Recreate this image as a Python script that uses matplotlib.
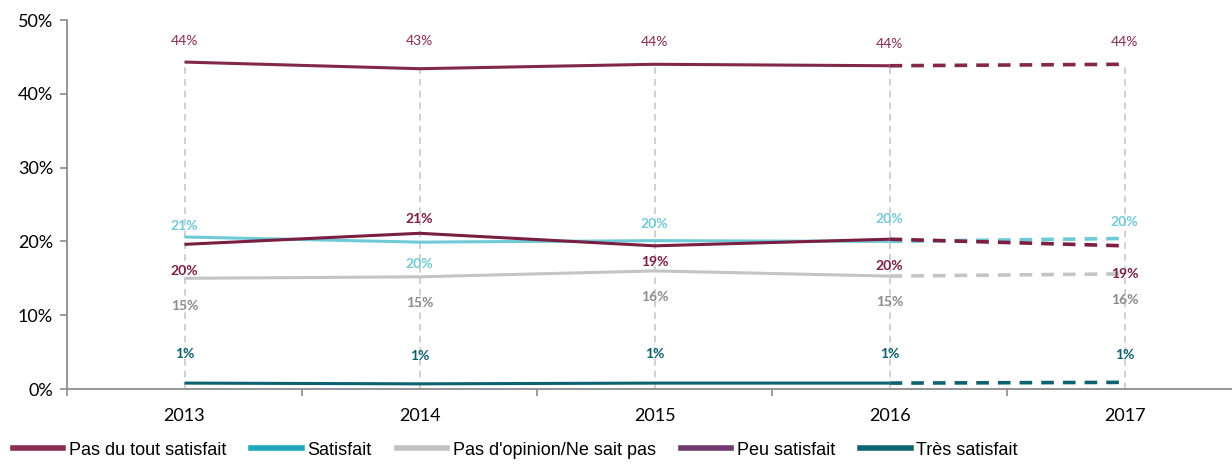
import matplotlib.pyplot as plt
import matplotlib.ticker as mticker
from matplotlib.lines import Line2D
import numpy as np

# --- Data ---
years = ["2013", "2014", "2015", "2016", "2017"]
pas_du_tout = [44.3, 43.4, 44.0, 43.8, 44.0]
satisfait = [20.6, 19.9, 20.1, 20.0, 20.4]
sans_opinion = [15.0, 15.2, 16.0, 15.3, 15.6]
peu_satisfait = [19.6, 21.1, 19.4, 20.3, 19.4]
tres_satisfait = [0.8, 0.7, 0.8, 0.8, 0.9]

lbl_pas_du_tout = ["44%", "43%", "44%", "44%", "44%"]
lbl_satisfait = ["21%", "20%", "20%", "20%", "20%"]
lbl_sans_opinion = ["15%", "15%", "16%", "15%", "16%"]
lbl_peu = ["20%", "21%", "19%", "20%", "19%"]
lbl_tres = ["1%", "1%", "1%", "1%", "1%"]

legend_names = ["Pas du tout satisfait", "Satisfait", "Pas d'opinion/Ne sait pas",
                "Peu satisfait", "Très satisfait"]
legend_colors = ["#8E2D50", "#1FA6BA", "#C0C0C0", "#6E3A70", "#0B6470"]

# line colours in the plot area
c_pas = "#84284A"
c_sat = "#6FCAD8"
c_grey = "#C4C4C4"
c_peu = "#7A1E42"
c_tres = "#0D6270"

x = np.arange(len(years))

fig = plt.figure(figsize=(12.32, 4.68), dpi=100)
ax = fig.add_axes([67 / 1232, 79 / 468, 1 - 67 / 1232, 369 / 468])

# vertical dashed guides up to the top series
ax.vlines(x, 0, pas_du_tout, colors="#C8C8C8", linestyles=(0, (4, 3)), linewidth=1.2, zorder=1)


def draw(vals, color, lw=2.2):
    ax.plot(x[:4], vals[:4], color=color, linewidth=lw, solid_capstyle="butt", zorder=3)
    ax.plot(x[3:], vals[3:], color=color, linewidth=lw + 0.4, linestyle=(0, (3.5, 2.5)), zorder=3)


draw(sans_opinion, c_grey)
draw(satisfait, c_sat)
draw(peu_satisfait, c_peu)
draw(pas_du_tout, c_pas)
draw(tres_satisfait, c_tres)

# data labels (offsets in points)
lab_font = "Lato"


def labels(vals, texts, color, dys, bold):
    for xi, v, t, dy in zip(x, vals, texts, dys):
        ax.annotate(t, (xi, v), xytext=(0, dy), textcoords="offset points",
                    ha="center", va="center", color=color, fontsize=10,
                    fontweight="bold" if bold else "normal", family=lab_font)


labels(pas_du_tout, lbl_pas_du_tout, "#8B2A50", [15, 20, 16, 16, 16], False)
labels(satisfait, lbl_satisfait, "#72C9D8", [8, -16, 12, 16, 12], True)
labels(peu_satisfait, lbl_peu, "#7A1E42", [-19, 10, -12, -19, -20], True)
labels(sans_opinion, lbl_sans_opinion, "#8C8C8C", [-20, -19, -19, -19, -19], True)
labels(tres_satisfait, lbl_tres, "#0D6270", [21, 20, 21, 21, 20], True)

# axes styling
ax.set_xlim(-0.5, 4.457)
ax.set_ylim(0, 50)
ax.yaxis.set_major_locator(mticker.MultipleLocator(10))
ax.yaxis.set_major_formatter(mticker.FuncFormatter(lambda v, p: f"{int(v)}%"))
ax.set_xticks(x)
ax.set_xticklabels(years)
ax.xaxis.set_minor_locator(mticker.FixedLocator(np.arange(-0.5, 4.0, 1.0)))
ax.tick_params(axis="x", which="major", length=0, pad=14, labelsize=13)
ax.tick_params(axis="x", which="minor", length=5, width=1.2, color="#8C8C8C", direction="out")
ax.tick_params(axis="y", length=5, width=1.2, color="#8C8C8C", labelsize=13, pad=5)
for lab in ax.get_xticklabels() + ax.get_yticklabels():
    lab.set_family("Lato")
for s in ["top", "right"]:
    ax.spines[s].set_visible(False)
for s in ["left", "bottom"]:
    ax.spines[s].set_color("#8C8C8C")
    ax.spines[s].set_linewidth(1.3)

# legend
handles = [Line2D([0], [0], color=c, linewidth=4) for c in legend_colors]
fig.legend(handles, legend_names, loc="lower left", bbox_to_anchor=(-0.003, -0.015), ncol=5,
           frameon=False, handlelength=2.8, handletextpad=0.3, columnspacing=1.4,
           prop={"family": "Liberation Sans", "size": 13})

fig.savefig("out.png", dpi=100)
